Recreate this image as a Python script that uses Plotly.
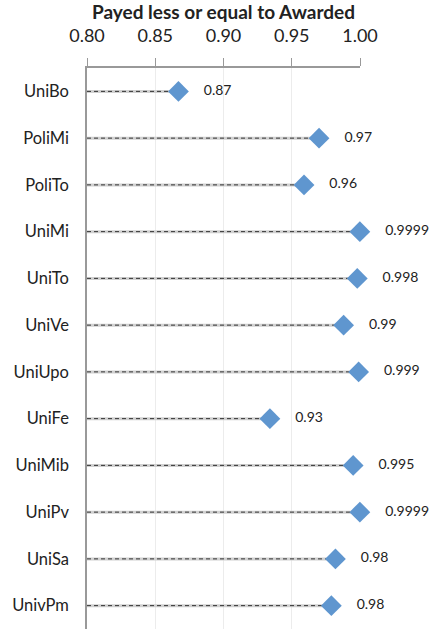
import plotly.graph_objects as go

universities = ["UniBo", "PoliMi", "PoliTo", "UniMi", "UniTo", "UniVe",
                "UniUpo", "UniFe", "UniMib", "UniPv", "UniSa", "UnivPm"]
values = [0.867, 0.970, 0.959, 0.9999, 0.998, 0.988,
          0.999, 0.934, 0.995, 0.9999, 0.982, 0.979]
value_labels = ["0.87", "0.97", "0.96", "0.9999", "0.998", "0.99",
                "0.999", "0.93", "0.995", "0.9999", "0.98", "0.98"]
tick_vals = [0.80, 0.85, 0.90, 0.95, 1.00]
tick_text = ["0.80", "0.85", "0.90", "0.95", "1.00"]
x_start = 0.80

FONT = "Lato"

lx, ly = [], []
for u, v in zip(universities, values):
    lx += [x_start, v, None]
    ly += [u, u, None]

fig = go.Figure()
fig.add_trace(go.Scatter(x=lx, y=ly, mode="lines",
                         line=dict(color="#d0d0d0", width=3),
                         hoverinfo="skip", showlegend=False, cliponaxis=False))
fig.add_trace(go.Scatter(x=lx, y=ly, mode="lines",
                         line=dict(color="#333333", width=1, dash="4px,3px"),
                         hoverinfo="skip", showlegend=False, cliponaxis=False))
fig.add_trace(go.Scatter(x=values, y=universities, mode="markers+text",
                         marker=dict(symbol="diamond", size=16, color="#5f96cf"),
                         text=["    " + t for t in value_labels],
                         textposition="middle right",
                         textfont=dict(family=FONT, size=14, color="#222"),
                         showlegend=False, cliponaxis=False))

fig.update_layout(
    width=431, height=629,
    margin=dict(l=87, r=71, t=68, b=0, autoexpand=False),
    plot_bgcolor="white", paper_bgcolor="white",
    font=dict(family=FONT, color="#222"),
)
fig.update_xaxes(
    side="top", range=[0.8, 1.0], automargin=False,
    tickvals=tick_vals, ticktext=tick_text,
    tickfont=dict(size=18, family=FONT, color="#222"),
    ticks="outside", ticklen=8, tickcolor="#999", tickwidth=1,
    ticklabelstandoff=9,
    showline=True, linecolor="#999", linewidth=1.5,
    showgrid=True, gridcolor="#ececec", gridwidth=1,
    zeroline=False,
    title=dict(text="<b>Payed less or equal to Awarded</b>",
               font=dict(size=19, family=FONT, color="#222"), standoff=0),
)
fig.update_yaxes(
    categoryorder="array", categoryarray=universities,
    range=[len(universities) - 0.5, -0.5],
    automargin=False,
    showline=True, linecolor="#999", linewidth=1.5,
    showgrid=False, zeroline=False, ticks="",
    ticklabelstandoff=13,
    tickfont=dict(size=16.5, family=FONT, color="#222"),
)

fig.write_html("out.html", config={"displayModeBar": False},
               post_script="document.body.style.margin='0';document.body.style.overflow='hidden';")
